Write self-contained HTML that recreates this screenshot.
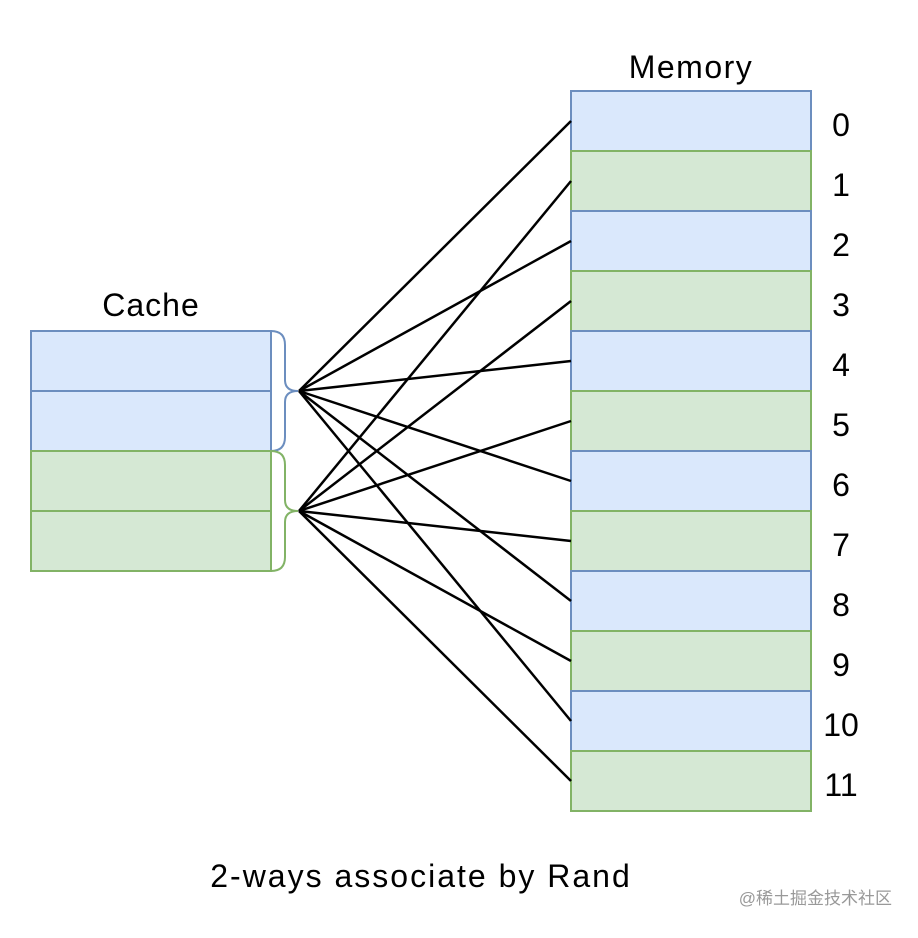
<!DOCTYPE html>
<html><head><style>body{margin:0;background:#fff}</style></head><body>
<svg width="918" height="933" xmlns="http://www.w3.org/2000/svg" font-family="Liberation Sans, sans-serif">
<rect width="918" height="933" fill="#fff"/>
<g stroke-width="2">
<rect x="571" y="91" width="240" height="60" fill="#dae8fc" stroke="#6c8ebf"/>
<rect x="571" y="151" width="240" height="60" fill="#d5e8d4" stroke="#82b366"/>
<rect x="571" y="211" width="240" height="60" fill="#dae8fc" stroke="#6c8ebf"/>
<rect x="571" y="271" width="240" height="60" fill="#d5e8d4" stroke="#82b366"/>
<rect x="571" y="331" width="240" height="60" fill="#dae8fc" stroke="#6c8ebf"/>
<rect x="571" y="391" width="240" height="60" fill="#d5e8d4" stroke="#82b366"/>
<rect x="571" y="451" width="240" height="60" fill="#dae8fc" stroke="#6c8ebf"/>
<rect x="571" y="511" width="240" height="60" fill="#d5e8d4" stroke="#82b366"/>
<rect x="571" y="571" width="240" height="60" fill="#dae8fc" stroke="#6c8ebf"/>
<rect x="571" y="631" width="240" height="60" fill="#d5e8d4" stroke="#82b366"/>
<rect x="571" y="691" width="240" height="60" fill="#dae8fc" stroke="#6c8ebf"/>
<rect x="571" y="751" width="240" height="60" fill="#d5e8d4" stroke="#82b366"/>
<rect x="31" y="331" width="240" height="60" fill="#dae8fc" stroke="#6c8ebf"/>
<rect x="31" y="391" width="240" height="60" fill="#dae8fc" stroke="#6c8ebf"/>
<rect x="31" y="451" width="240" height="60" fill="#d5e8d4" stroke="#82b366"/>
<rect x="31" y="511" width="240" height="60" fill="#d5e8d4" stroke="#82b366"/>
<path d="M271 331 Q285 331 285 345 L285 380 Q285 391 298 391 Q285 391 285 402 L285 437 Q285 451 271 451" fill="none" stroke="#6c8ebf"/>
<path d="M271 451 Q285 451 285 465 L285 500 Q285 511 298 511 Q285 511 285 522 L285 557 Q285 571 271 571" fill="none" stroke="#82b366"/>
</g>
<g stroke="#000" stroke-width="2.5">
<line x1="299" y1="391" x2="571" y2="121"/>
<line x1="299" y1="391" x2="571" y2="241"/>
<line x1="299" y1="391" x2="571" y2="361"/>
<line x1="299" y1="391" x2="571" y2="481"/>
<line x1="299" y1="391" x2="571" y2="601"/>
<line x1="299" y1="391" x2="571" y2="721"/>
<line x1="299" y1="511" x2="571" y2="181"/>
<line x1="299" y1="511" x2="571" y2="301"/>
<line x1="299" y1="511" x2="571" y2="421"/>
<line x1="299" y1="511" x2="571" y2="541"/>
<line x1="299" y1="511" x2="571" y2="661"/>
<line x1="299" y1="511" x2="571" y2="781"/>
</g>
<g font-size="32" fill="#000" text-anchor="middle">
<text x="691" y="78" letter-spacing="1.5">Memory</text>
<text x="151" y="316" letter-spacing="1">Cache</text>
<text x="841" y="136">0</text><text x="841" y="196">1</text><text x="841" y="256">2</text>
<text x="841" y="316">3</text><text x="841" y="376">4</text><text x="841" y="436">5</text>
<text x="841" y="496">6</text><text x="841" y="556">7</text><text x="841" y="616">8</text>
<text x="841" y="676">9</text><text x="841" y="736">10</text><text x="841" y="796">11</text>
<text x="421" y="887" letter-spacing="2">2-ways associate by Rand</text>
</g>
<text x="892" y="904" font-size="17" fill="#999" text-anchor="end" font-family="Liberation Sans, Noto Sans CJK SC, sans-serif">@稀土掘金技术社区</text>
</svg>
</body></html>
